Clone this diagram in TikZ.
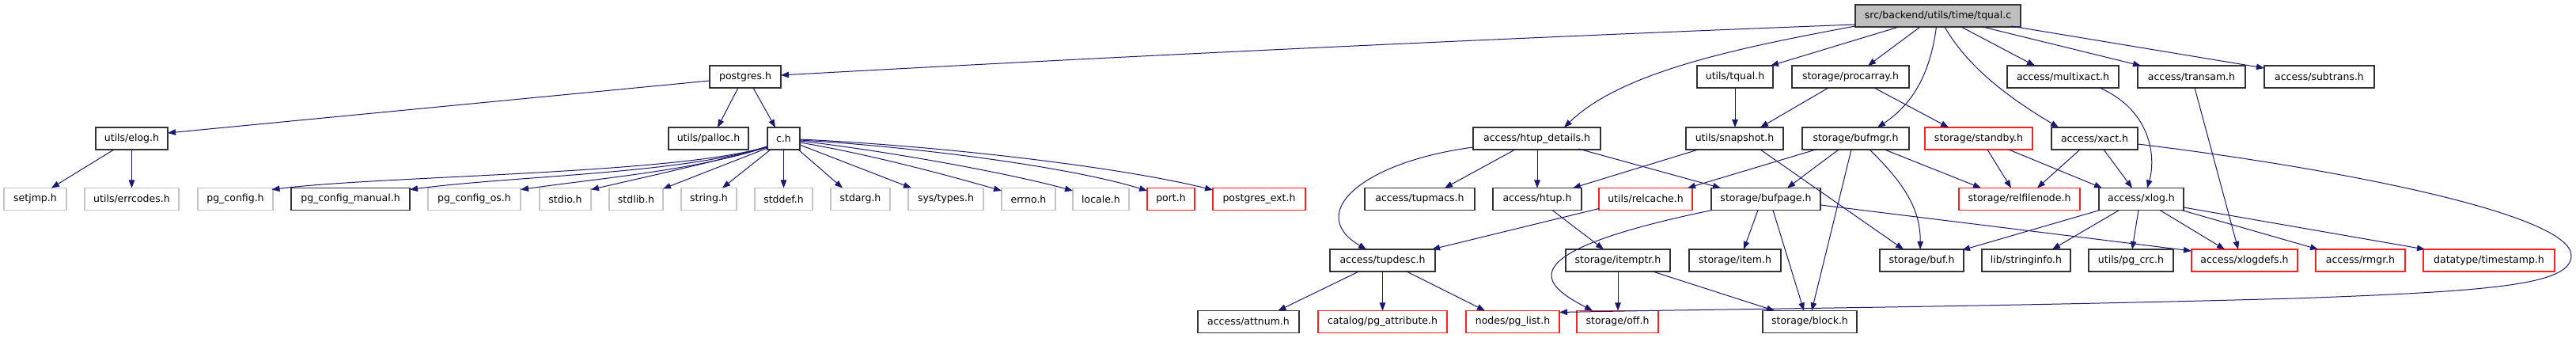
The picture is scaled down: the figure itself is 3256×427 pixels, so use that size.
\documentclass[tikz,border=0pt]{standalone}
\usepackage{fontspec}
\setmainfont{DejaVu Sans}
\usetikzlibrary{arrows.meta,calc}
\definecolor{midnight}{HTML}{191970}
\definecolor{greyb}{HTML}{C4C4C4}
\definecolor{topfill}{HTML}{BFBFBF}
\definecolor{redb}{HTML}{FF2020}
\begin{document}
\begin{tikzpicture}[x=1pt,y=-1pt,
  nd/.style={rectangle,minimum height=28pt,inner sep=0pt,line width=1.1pt,
    font=\fontsize{12.5}{14}\selectfont},
  blk/.style={nd,draw=black!80},
  gry/.style={nd,draw=greyb},
  rd/.style={nd,draw=redb},
  e/.style={draw=midnight,line width=1pt,-{Triangle[length=10pt,width=7.5pt]}}]
\fill[white] (0,0) rectangle (3256,427);
\useasboundingbox (0,0) rectangle (3256,427);
% row 0
\node[blk,fill=topfill,minimum width=209pt] (tqual) at (2449.5,20) {src/backend/utils/time/tqual.c};
% row 1
\node[blk,minimum width=90pt] (postgres) at (942,97) {postgres.h};
\node[blk,minimum width=96pt] (tqualh) at (2193,97) {utils/tqual.h};
\node[blk,minimum width=148pt] (procarray) at (2339,97) {storage/procarray.h};
\node[blk,minimum width=141pt] (multixact) at (2607.5,97) {access/multixact.h};
\node[blk,minimum width=136pt] (transam) at (2770,97) {access/transam.h};
\node[blk,minimum width=139pt] (subtrans) at (2931.5,97) {access/subtrans.h};
% row 2
\node[blk,minimum width=91pt] (elog) at (166.5,175) {utils/elog.h};
\node[blk,minimum width=101pt] (palloc) at (895.5,175) {utils/palloc.h};
\node[blk,minimum width=41pt] (ch) at (990.5,175) {c.h};
\node[blk,minimum width=161pt] (htupd) at (1942.5,175) {access/htup\_details.h};
\node[blk,minimum width=123pt] (snapshot) at (2192.5,175) {utils/snapshot.h};
\node[blk,minimum width=135pt] (bufmgr) at (2345.5,175) {storage/bufmgr.h};
\node[rd,minimum width=136pt] (standby) at (2501,175) {storage/standby.h};
\node[blk,minimum width=109pt] (xact) at (2647.5,175) {access/xact.h};
% row 3
\node[gry,minimum width=79pt] (setjmp) at (44.5,251.5) {setjmp.h};
\node[gry,minimum width=119pt] (errcodes) at (166.5,251.5) {utils/errcodes.h};
\node[gry,minimum width=95pt] (pgconfig) at (297.5,251.5) {pg\_config.h};
\node[blk,minimum width=150pt] (pgcm) at (443,251.5) {pg\_config\_manual.h};
\node[gry,minimum width=117pt] (pgcos) at (599.5,251.5) {pg\_config\_os.h};
\node[gry,minimum width=65pt] (stdio) at (714.5,251.5) {stdio.h};
\node[gry,minimum width=68pt] (stdlib) at (804,251.5) {stdlib.h};
\node[gry,minimum width=70pt] (string) at (896,251.5) {string.h};
\node[gry,minimum width=73pt] (stddef) at (990.5,251.5) {stddef.h};
\node[gry,minimum width=75pt] (stdarg) at (1087.5,251.5) {stdarg.h};
\node[gry,minimum width=95pt] (systypes) at (1195.5,251.5) {sys/types.h};
\node[gry,minimum width=68pt] (errno) at (1300,251.5) {errno.h};
\node[gry,minimum width=71pt] (locale) at (1391.5,251.5) {locale.h};
\node[rd,minimum width=60pt] (port) at (1480,251.5) {port.h};
\node[rd,minimum width=117pt] (pgext) at (1591.5,251.5) {postgres\_ext.h};
\node[blk,minimum width=139pt] (tupmacs) at (1794.5,251.5) {access/tupmacs.h};
\node[blk,minimum width=112pt] (htup) at (1943,251.5) {access/htup.h};
\node[rd,minimum width=118pt] (relcache) at (2080,251.5) {utils/relcache.h};
\node[blk,minimum width=138pt] (bufpage) at (2232,251.5) {storage/bufpage.h};
\node[rd,minimum width=153pt] (relfilenode) at (2552.5,251.5) {storage/relfilenode.h};
\node[blk,minimum width=107pt] (xlog) at (2706.5,251.5) {access/xlog.h};
% row 4
\node[blk,minimum width=133pt] (tupdesc) at (1747.5,329) {access/tupdesc.h};
\node[blk,minimum width=132pt] (itemptr) at (2045,329) {storage/itemptr.h};
\node[blk,minimum width=116pt] (item) at (2193,329) {storage/item.h};
\node[blk,minimum width=106pt] (buf) at (2429,329) {storage/buf.h};
\node[blk,minimum width=112pt] (stringinfo) at (2561,329) {lib/stringinfo.h};
\node[blk,minimum width=107pt] (pgcrc) at (2693.5,329) {utils/pg\_crc.h};
\node[rd,minimum width=134pt] (xlogdefs) at (2837,329) {access/xlogdefs.h};
\node[rd,minimum width=113pt] (rmgr) at (2983.5,329) {access/rmgr.h};
\node[rd,minimum width=166pt] (timestamp) at (3146,329) {datatype/timestamp.h};
% row 5
\node[blk,minimum width=128pt] (attnum) at (1578,406.5) {access/attnum.h};
\node[rd,minimum width=163pt] (pgattr) at (1747.5,406.5) {catalog/pg\_attribute.h};
\node[rd,minimum width=118pt] (pglist) at (1912,406.5) {nodes/pg\_list.h};
\node[rd,minimum width=103pt] (off) at (2044.5,406.5) {storage/off.h};
\node[blk,minimum width=119pt] (block) at (2287.5,406.5) {storage/block.h};

% edges from tqual.c
\draw[e] ($(tqual)+(-104.5,11)$) .. controls (1900,48) and (1400,72) .. ($(postgres)+(45,-2)$);
\draw[e] ($(tqual)+(-104.5,13)$) .. controls (2200,60) and (2050,90) .. ($(htupd)+(34.5,-14)$);
\draw[e] ($(tqual)+(-49.5,14)$) -- ($(tqualh)+(45,-14)$);
\draw[e] ($(tqual)+(-22.5,14)$) -- ($(procarray)+(22,-14)$);
\draw[e] ($(tqual)+(-2,14)$) .. controls (2440,90) and (2420,130) .. ($(bufmgr)+(27.5,-14)$);
\draw[e] ($(tqual)+(8.5,14)$) .. controls (2490,90) and (2550,130) .. ($(xact)+(-45.5,-14)$);
\draw[e] ($(tqual)+(29.5,14)$) -- ($(multixact)+(-35.5,-14)$);
\draw[e] ($(tqual)+(56.5,14)$) -- ($(transam)+(-64,-14)$);
\draw[e] ($(tqual)+(92.5,13)$) -- ($(subtrans)+(-69.5,-11)$);
% postgres.h
\draw[e] ($(postgres)+(-45,5)$) -- ($(elog)+(45.5,-7)$);
\draw[e] ($(postgres)+(-9,14)$) -- ($(palloc)+(11.5,-14)$);
\draw[e] ($(postgres)+(10,14)$) -- ($(ch)+(-10.5,-14)$);
% elog
\draw[e] ($(elog)+(-22.5,14)$) -- ($(setjmp)+(20.5,-14)$);
\draw[e] ($(elog)+(0,14)$) -- ($(errcodes)+(0,-14)$);
% c.h
\draw[e] ($(ch)+(-20.5,10)$) .. controls (860,220) and (480,222) .. ($(pgconfig)+(46,-12)$);
\draw[e] ($(ch)+(-20.5,10)$) .. controls (860,220) and (650,222) .. ($(pgcm)+(75,-12)$);
\draw[e] ($(ch)+(-20.5,10.5)$) .. controls (880,215) and (760,225) .. ($(pgcos)+(58.5,-12)$);
\draw[e] ($(ch)+(-20.5,11)$) .. controls (900,205) and (810,225) .. ($(stdio)+(32.5,-12)$);
\draw[e] ($(ch)+(-20.5,12)$) -- ($(stdlib)+(34,-13)$);
\draw[e] ($(ch)+(-16.5,14)$) -- ($(string)+(17,-14)$);
\draw[e] ($(ch)+(0,14)$) -- ($(stddef)+(0,-14)$);
\draw[e] ($(ch)+(18.5,14)$) -- ($(stdarg)+(-22.5,-14)$);
\draw[e] ($(ch)+(20.5,8)$) -- ($(systypes)+(-43.5,-14)$);
\draw[e] ($(ch)+(20.5,5)$) .. controls (1100,195) and (1200,222) .. ($(errno)+(-34,-10.5)$);
\draw[e] ($(ch)+(20.5,3)$) .. controls (1130,192) and (1280,220) .. ($(locale)+(-35.5,-10.5)$);
\draw[e] ($(ch)+(20.5,2)$) .. controls (1150,185) and (1350,210) .. ($(port)+(-30,-10.5)$);
\draw[e] ($(ch)+(20.5,1)$) .. controls (1200,185) and (1420,212) .. ($(pgext)+(-58.5,-11.5)$);
% utils/tqual.h, procarray
\draw[e] ($(tqualh)+(0,14)$) -- ($(snapshot)+(0.5,-14)$);
\draw[e] ($(procarray)+(-28,14)$) -- ($(snapshot)+(32.5,-14)$);
\draw[e] ($(procarray)+(30,14)$) -- ($(standby)+(-38,-14)$);
% multixact, transam
\draw[e] ($(multixact)+(46.5,14)$) .. controls (2720,140) and (2725,200) .. ($(xlog)+(7.5,-14)$);
\draw[e] ($(transam)+(4,14)$) -- ($(xlogdefs)+(-8,-14)$);
% htup_details
\draw[e] ($(htupd)+(-80.5,11)$) .. controls (1720,205) and (1650,270) .. ($(tupdesc)+(-20.5,-14)$);
\draw[e] ($(htupd)+(-27.5,14)$) -- ($(tupmacs)+(31.5,-14)$);
\draw[e] ($(htupd)+(0.5,14)$) -- ($(htup)+(0,-14)$);
\draw[e] ($(htupd)+(52.5,13)$) -- ($(bufpage)+(-57,-14)$);
% snapshot
\draw[e] ($(snapshot)+(-46,14)$) -- ($(htup)+(45,-14)$);
\draw[e] ($(snapshot)+(32.5,14)$) -- ($(buf)+(-23,-14)$);
% bufmgr
\draw[e] ($(bufmgr)+(-50.5,14)$) -- ($(relcache)+(53,-14)$);
\draw[e] ($(bufmgr)+(-21.5,14)$) -- ($(bufpage)+(27,-14)$);
\draw[e] ($(bufmgr)+(-5.5,14)$) -- ($(block)+(2.5,-14)$);
\draw[e] ($(bufmgr)+(17.5,14)$) .. controls (2400,225) and (2428,260) .. ($(buf)+(-2,-14)$);
\draw[e] ($(bufmgr)+(36.5,14)$) -- ($(relfilenode)+(-48.5,-14)$);
% standby
\draw[e] ($(standby)+(11,14)$) -- ($(relfilenode)+(-10.5,-14)$);
\draw[e] ($(standby)+(38,14)$) -- ($(xlog)+(-49.5,-14)$);
% xact
\draw[e] ($(xact)+(-18.5,14)$) -- ($(relfilenode)+(22.5,-14)$);
\draw[e] ($(xact)+(11.5,14)$) -- ($(xlog)+(-11.5,-14)$);
\draw[e] ($(xact)+(54.5,7)$) .. controls (2950,212) and (3250,270) .. (3250,323)
   .. controls (3250,360) and (3150,368) .. (2900,377)
   .. controls (2500,388) and (2200,390) .. ($(pglist)+(59,-12)$);
% xlog
\draw[e] ($(xlog)+(-52.5,14)$) -- ($(buf)+(51,-13)$);
\draw[e] ($(xlog)+(-28,14)$) -- ($(stringinfo)+(33,-14)$);
\draw[e] ($(xlog)+(-3.5,14)$) -- ($(pgcrc)+(1.5,-14)$);
\draw[e] ($(xlog)+(23.5,14)$) -- ($(xlogdefs)+(-25,-14)$);
\draw[e] ($(xlog)+(51,14)$) -- ($(rmgr)+(-53.5,-14)$);
\draw[e] ($(xlog)+(53.5,10.5)$) -- ($(timestamp)+(-81,-14)$);
% bufpage
\draw[e] ($(bufpage)+(69,7.5)$) -- ($(xlogdefs)+(-67,-12)$);
\draw[e] ($(bufpage)+(-10,14)$) -- ($(item)+(11,-14)$);
\draw[e] ($(bufpage)+(9,14)$) -- ($(block)+(-7.5,-14)$);
\draw[e] ($(bufpage)+(-68,14)$) .. controls (1900,320) and (1950,360) .. ($(off)+(-31.5,-14)$);
% htup, relcache
\draw[e] ($(htup)+(19,14)$) -- ($(itemptr)+(-18,-14)$);
\draw[e] ($(relcache)+(-59,12)$) -- ($(tupdesc)+(62.5,-14)$);
% itemptr
\draw[e] ($(itemptr)+(0,14)$) -- ($(off)+(0.5,-14)$);
\draw[e] ($(itemptr)+(44,14)$) -- ($(block)+(-44.5,-14)$);
% tupdesc
\draw[e] ($(tupdesc)+(-30,14)$) -- ($(attnum)+(37.5,-14)$);
\draw[e] ($(tupdesc)+(0,14)$) -- ($(pgattr)+(0,-14)$);
\draw[e] ($(tupdesc)+(30.5,14)$) -- ($(pglist)+(-35,-14)$);
\end{tikzpicture}
\end{document}
